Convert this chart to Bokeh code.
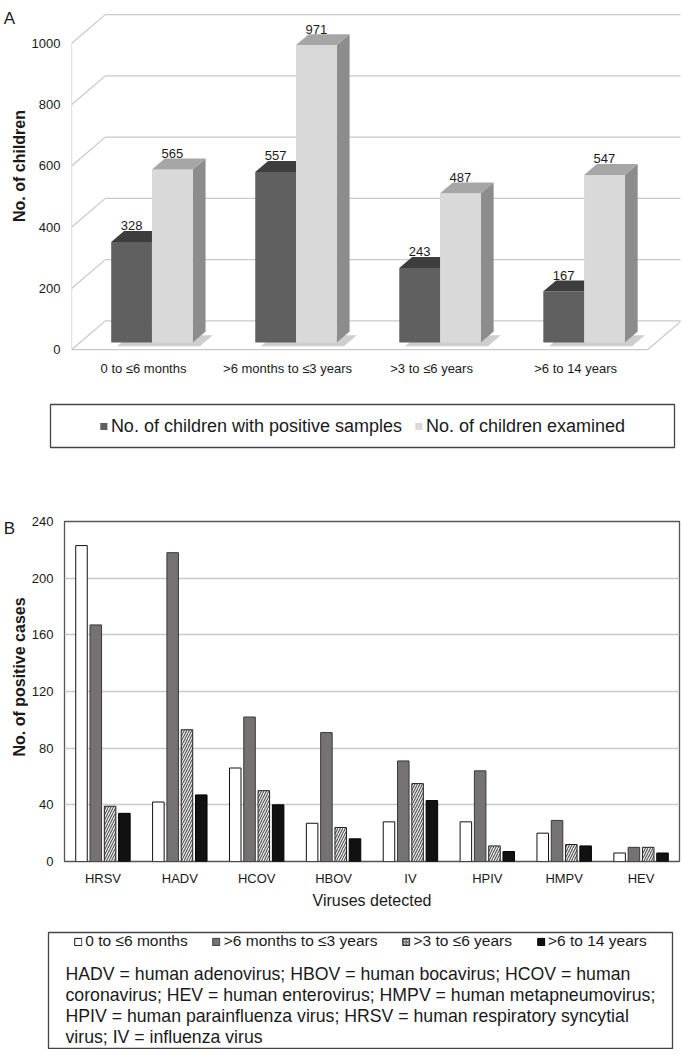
import math
from bokeh.plotting import figure
from bokeh.models import Range1d, FixedTicker, Legend, LegendItem, FactorRange, ColumnDataSource
from bokeh.transform import dodge
from bokeh.layouts import column, row
from bokeh.embed import file_html
from bokeh.resources import INLINE
from bokeh.core.properties import value

# ---------------- data ----------------
age_groups = ["0 to \u22646 months", ">6 months to \u22643 years", ">3 to \u22646 years", ">6 to 14 years"]
positive = [328, 557, 243, 167]
examined = [565, 971, 487, 547]
a_ticks = [0, 200, 400, 600, 800, 1000]
a_series = ["No. of children with positive samples", "No. of children examined"]

viruses = ["HRSV", "HADV", "HCOV", "HBOV", "IV", "HPIV", "HMPV", "HEV"]
b_0_6m = [223, 42, 66, 27, 28, 28, 20, 6]
b_6m_3y = [167, 218, 102, 91, 71, 64, 29, 10]
b_3_6y = [39, 93, 50, 24, 55, 11, 12, 10]
b_6_14y = [34, 47, 40, 16, 43, 7, 11, 6]
b_ticks = [0, 40, 80, 120, 160, 200, 240]
b_series = ["0 to \u22646 months", ">6 months to \u22643 years", ">3 to \u22646 years", ">6 to 14 years"]

note_lines = [
    "HADV = human  adenovirus;  HBOV =  human  bocavirus;  HCOV = human",
    "coronavirus; HEV = human enterovirus; HMPV = human metapneumovirus;",
    "HPIV = human  parainfluenza  virus;  HRSV =  human respiratory syncytial",
    "virus; IV = influenza virus",
]

FONT = "Liberation Sans"
GRID = "#c9c9c9"
TXT = "#1a1a1a"
C_POS, C_POS_TOP, C_POS_SIDE = "#606060", "#3d3d3d", "#4a4a4a"
C_EXA, C_EXA_TOP, C_EXA_SIDE = "#d9d9d9", "#a6a6a6", "#8c8c8c"
WIDTH = 682
SIDE_W = 28


def side_strip(height, letter, letter_y, title, title_x, title_y):
    """Narrow strip left of a panel: panel letter and rotated axis title (pixel coordinates)."""
    s = figure(width=SIDE_W, height=height, x_range=Range1d(0, SIDE_W), y_range=Range1d(0, height),
               output_backend="svg", toolbar_location=None, x_axis_type=None, y_axis_type=None,
               min_border_left=0, min_border_right=0, min_border_top=0, min_border_bottom=0)
    s.outline_line_color = None
    s.grid.visible = False
    s.text(x=[9], y=[height - letter_y], text=[letter], text_font=value(FONT), text_font_size="17px",
           text_align="center", text_baseline="middle", text_color=TXT)
    s.text(x=[title_x], y=[height - title_y], text=[title], angle=math.pi / 2,
           text_font=value(FONT), text_font_size="16px", text_font_style="bold",
           text_align="center", text_baseline="middle", text_color=TXT)
    return s


# ---------------- panel A (pseudo 3-D) ----------------
DX, DY = 0.2345, 94.0      # wall depth (x in group units, y in value units)
XF = 4.0                   # front floor right end
F0, BD = 0.25, 0.38        # bar front depth fraction, bar depth fraction
W = 0.283                  # bar width

pA = figure(width=WIDTH - SIDE_W, height=392, x_range=Range1d(0, 4.228), y_range=Range1d(-6, 1114),
            output_backend="svg", toolbar_location=None,
            min_border_left=67 - SIDE_W, min_border_right=2, min_border_top=8, min_border_bottom=41)
pA.outline_line_color = None
pA.grid.visible = False

n = len(a_ticks)
pA.segment(x0=[0] * n, y0=a_ticks, x1=[DX] * n, y1=[t + DY for t in a_ticks], line_color=GRID, line_width=1.3)
pA.segment(x0=[DX] * n, y0=[t + DY for t in a_ticks], x1=[XF + DX] * n, y1=[t + DY for t in a_ticks],
           line_color=GRID, line_width=1.3)
pA.segment(x0=[0, 0, XF], y0=[0, 0, 0], x1=[0, XF, XF + DX], y1=[a_ticks[-1], 0, DY],
           line_color=GRID, line_width=1.3)

base = F0 * DY
centers = [i + 0.5 + F0 * DX for i in range(len(age_groups))]
bdx, bdy = BD * DX, BD * DY

# shadows on the floor
sh_xs, sh_ys = [], []
for c in centers:
    l, r = c - W + 0.04, c + W + 0.05
    sh_xs.append([l, r, r + bdx, l + bdx])
    sh_ys.append([base - 12, base - 12, base - 12 + bdy, base - 12 + bdy])
pA.patches(xs=sh_xs, ys=sh_ys, fill_color="#bdbdbd", fill_alpha=0.75, line_color=None)


def draw_bars(lefts, rights, vals, front, top, side):
    pA.patches(xs=[[r, r + bdx, r + bdx, r] for r in rights],
               ys=[[base, base + bdy, base + v + bdy, base + v] for v in vals],
               fill_color=side, line_color=None)
    pA.quad(left=lefts, right=rights, bottom=[base] * len(vals), top=[base + v for v in vals],
            fill_color=front, line_color=None)
    pA.patches(xs=[[l, r, r + bdx, l + bdx] for l, r in zip(lefts, rights)],
               ys=[[base + v, base + v, base + v + bdy, base + v + bdy] for v in vals],
               fill_color=top, line_color=None)
    pA.text(x=[(l + r) / 2 for l, r in zip(lefts, rights)], y=[base + v + bdy + 2 for v in vals],
            text=[str(v) for v in vals], text_font=value(FONT), text_font_size="13px",
            text_align="center", text_baseline="bottom", text_color=TXT)


draw_bars([c - W for c in centers], centers, positive, C_POS, C_POS_TOP, C_POS_SIDE)
draw_bars(centers, [c + W for c in centers], examined, C_EXA, C_EXA_TOP, C_EXA_SIDE)

pA.yaxis.ticker = FixedTicker(ticks=a_ticks)
pA.yaxis.axis_line_color = None
pA.yaxis.major_tick_line_color = None
pA.yaxis.minor_tick_line_color = None
pA.yaxis.major_tick_out = 0
pA.yaxis.major_label_standoff = 11
pA.yaxis.major_label_text_font = FONT
pA.yaxis.major_label_text_font_size = "13px"
pA.yaxis.major_label_text_color = TXT

pA.xaxis.ticker = FixedTicker(ticks=[i + 0.5 for i in range(len(age_groups))])
pA.xaxis.major_label_overrides = {i + 0.5: g for i, g in enumerate(age_groups)}
pA.xaxis.axis_line_color = None
pA.xaxis.major_tick_line_color = None
pA.xaxis.minor_tick_line_color = None
pA.xaxis.major_tick_out = 0
pA.xaxis.major_label_standoff = 9
pA.xaxis.major_label_text_font = FONT
pA.xaxis.major_label_text_font_size = "13px"
pA.xaxis.major_label_text_color = TXT

sA = side_strip(392, "A", 11, "No. of children", 19, 180)

# ---------------- legend A ----------------
lA = figure(width=WIDTH, height=106, x_range=Range1d(0, 1), y_range=Range1d(0, 1),
            output_backend="svg", toolbar_location=None,
            min_border_left=50, min_border_right=8, min_border_top=12, min_border_bottom=51)
lA.axis.visible = False
lA.grid.visible = False
lA.outline_line_color = "#444444"
lA.outline_line_width = 1.3
# legend swatches (kept outside the visible range)
ra1 = lA.quad(left=[5], right=[6], bottom=[5], top=[6], fill_color=C_POS, line_color=None)
ra2 = lA.quad(left=[5], right=[6], bottom=[5], top=[6], fill_color=C_EXA, line_color=None)
legA = Legend(items=[LegendItem(label=a_series[0], renderers=[ra1]),
                     LegendItem(label=a_series[1], renderers=[ra2])],
              location="center", orientation="horizontal", border_line_color=None,
              background_fill_alpha=0, glyph_width=9, glyph_height=9, label_standoff=3,
              spacing=12, padding=0, margin=0,
              label_text_font=FONT, label_text_font_size="18px", label_text_color=TXT)
lA.add_layout(legA, "center")

# ---------------- panel B ----------------
pB = figure(width=WIDTH - SIDE_W, height=422, x_range=FactorRange(*viruses), y_range=Range1d(0, 240),
            output_backend="svg", toolbar_location=None,
            min_border_left=64 - SIDE_W, min_border_right=3, min_border_top=23, min_border_bottom=59)
pB.outline_line_color = "#555555"
pB.outline_line_width = 1.3
pB.xgrid.visible = False
pB.ygrid.ticker = FixedTicker(ticks=b_ticks[1:-1])
pB.ygrid.grid_line_color = GRID
pB.ygrid.grid_line_width = 1.6

srcB = ColumnDataSource(dict(virus=viruses, s1=b_0_6m, s2=b_6m_3y, s3=b_3_6y, s4=b_6_14y))
BW = 0.15
offs = [-0.279, -0.093, 0.093, 0.279]
STY = [dict(fill_color="white", line_color="#111111"),
       dict(fill_color="#767272", line_color="#3a3a3a"),
       dict(fill_color="#e8e8e8", line_color="#222222", hatch_pattern="/", hatch_color="#3a3a3a",
            hatch_scale=5, hatch_weight=1),
       dict(fill_color="#111111", line_color="#000000")]
for k, col in enumerate(["s1", "s2", "s3", "s4"]):
    pB.vbar(x=dodge("virus", offs[k], range=pB.x_range), top=col, width=BW, source=srcB,
            line_width=1, **STY[k])

pB.yaxis.ticker = FixedTicker(ticks=b_ticks)
pB.yaxis.axis_line_color = None
pB.yaxis.major_tick_line_color = None
pB.yaxis.minor_tick_line_color = None
pB.yaxis.major_tick_out = 0
pB.yaxis.major_label_standoff = 11
pB.yaxis.major_label_text_font = FONT
pB.yaxis.major_label_text_font_size = "13px"
pB.yaxis.major_label_text_color = TXT

pB.xaxis.axis_line_color = None
pB.xaxis.major_tick_line_color = None
pB.xaxis.major_tick_out = 0
pB.xaxis.major_label_standoff = 9
pB.xaxis.major_label_text_font = FONT
pB.xaxis.major_label_text_font_size = "13px"
pB.xaxis.major_label_text_color = TXT
pB.xaxis.axis_label = "Viruses detected"
pB.xaxis.axis_label_standoff = 3
pB.xaxis.axis_label_text_font = FONT
pB.xaxis.axis_label_text_font_size = "16px"
pB.xaxis.axis_label_text_font_style = "normal"
pB.xaxis.axis_label_text_color = TXT

sB = side_strip(422, "B", 9, "No. of positive cases", 19, 193)

# ---------------- legend B + notes ----------------
lB = figure(width=WIDTH, height=129, x_range=Range1d(0, 624), y_range=Range1d(0, 116),
            output_backend="svg", toolbar_location=None,
            min_border_left=48, min_border_right=10, min_border_top=12, min_border_bottom=1)
lB.axis.visible = False
lB.grid.visible = False
lB.outline_line_color = "#444444"
lB.outline_line_width = 1.3
sw = []
for k in range(4):
    sty = dict(STY[k])
    if "hatch_scale" in sty:
        sty["hatch_scale"] = 3
    sw.append(lB.quad(left=[900], right=[901], bottom=[900], top=[901], line_width=1, **sty))
legB = Legend(items=[LegendItem(label=s, renderers=[r]) for s, r in zip(b_series, sw)],
              location="top_center", orientation="horizontal", border_line_color=None,
              background_fill_alpha=0, glyph_width=9, glyph_height=9, label_standoff=3,
              spacing=24, padding=6, margin=0,
              label_text_font=FONT, label_text_font_size="15.5px", label_text_color=TXT)
lB.add_layout(legB, "center")
lB.text(x=[17] * len(note_lines), y=[75, 54, 33, 12], text=note_lines,
        text_font=value(FONT), text_font_size="17.7px", text_align="left",
        text_baseline="middle", text_color=TXT)

layout = column(row(sA, pA, spacing=0), row(lA), row(sB, pB, spacing=0), row(lB), spacing=0)
open("out.html", "w").write(file_html(layout, INLINE))
